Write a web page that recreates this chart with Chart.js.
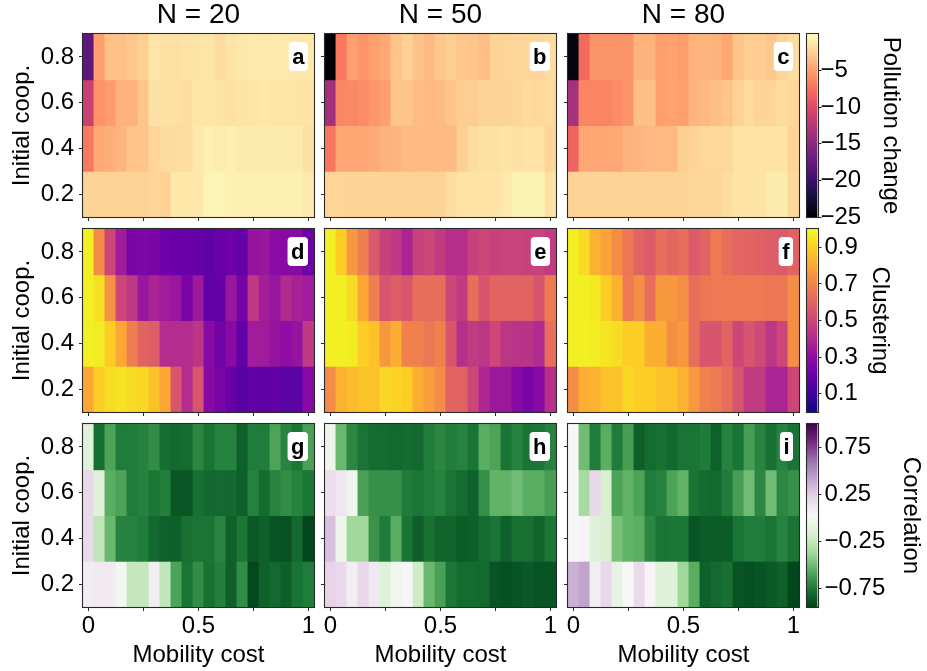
<!DOCTYPE html>
<html>
<head>
<meta charset="utf-8">
<script src="https://cdn.jsdelivr.net/npm/chart.js@4.4.0/dist/chart.umd.min.js"></script>
<style>
  html, body { margin: 0; padding: 0; background: #fff; }
  #fig { position: relative; width: 927px; height: 671px; overflow: hidden; background: #fff; }
  #fig canvas { position: absolute; }
</style>
</head>
<body>
<div id="fig"></div>
<script>
// sweep grid
var mobilityCost = [0, 0.05, 0.1, 0.15, 0.2, 0.25, 0.3, 0.35, 0.4, 0.45, 0.5,
                    0.55, 0.6, 0.65, 0.7, 0.75, 0.8, 0.85, 0.9, 0.95, 1];
var initialCoop = [0.8, 0.6, 0.4, 0.2];
var groupSizes = ['N = 20', 'N = 50', 'N = 80'];

var xTicks = [0, 0.25, 0.5, 0.75, 1];
var xTickLabels = ['0', '', '0.5', '', '1'];
var yTicks = [0.2, 0.4, 0.6, 0.8];
var yTickLabels = ['0.2', '0.4', '0.6', '0.8'];

var pollutionTicks = [-5, -10, -15, -20, -25];
var pollutionTickLabels = ['\u22125', '\u221210', '\u221215', '\u221220', '\u221225'];
var clusteringTicks = [0.9, 0.7, 0.5, 0.3, 0.1];
var clusteringTickLabels = ['0.9', '0.7', '0.5', '0.3', '0.1'];
var correlationTicks = [0.75, 0.25, -0.25, -0.75];
var correlationTickLabels = ['0.75', '0.25', '\u22120.25', '\u22120.75'];

// rows follow initialCoop (0.8 at top), columns follow mobilityCost
var pollution20 = [
  [-18, -5.0, -3.2, -3.2, -2.9, -2.5, -1.3, -1.5, -1.6, -1.4, -1.4, -1.3, -1.8, -1.4, -1.2, -1.0, -1.1, -1.0, -1.1, -1.2, -1.2],
  [-11.3, -5.7, -5.2, -4.0, -4.0, -3.0, -1.5, -1.5, -1.6, -1.7, -1.3, -1.3, -1.4, -1.6, -1.4, -1.3, -1.2, -1.3, -1.3, -1.4, -1.4],
  [-7.0, -4.5, -4.2, -3.9, -3.0, -3.0, -2.2, -1.8, -1.8, -1.7, -1.1, -0.7, -0.9, -0.7, -1.0, -1.0, -1.0, -1.0, -1.0, -1.0, -1.5],
  [-2.3, -2.3, -2.3, -2.3, -2.3, -2.3, -2.1, -2.4, -1.2, -1.2, -1.2, -0.5, -0.5, -0.7, -0.7, -0.7, -0.7, -0.7, -0.7, -0.7, -1.1]
];
var pollution50 = [
  [-25, -7.0, -5.0, -5.5, -4.9, -4.5, -3.0, -2.4, -3.1, -3.6, -2.9, -2.6, -2.9, -3.0, -3.4, -2.3, -2.2, -2.1, -2.1, -2.1, -1.8],
  [-13.7, -6.3, -6.2, -5.9, -5.5, -5.0, -3.0, -3.0, -3.5, -3.7, -3.5, -3.0, -2.6, -2.6, -2.3, -2.3, -2.3, -2.1, -1.9, -2.0, -1.9],
  [-7.2, -4.6, -4.6, -4.6, -4.3, -4.0, -3.9, -3.6, -3.6, -3.6, -3.6, -3.6, -2.5, -1.8, -1.5, -1.5, -1.4, -1.5, -1.4, -1.4, -2.2],
  [-2.2, -2.2, -2.3, -2.3, -2.3, -2.3, -2.3, -2.3, -2.3, -2.3, -2.3, -1.7, -1.4, -1.4, -1.4, -1.4, -1.1, -0.6, -0.6, -0.6, -1.5]
];
var pollution80 = [
  [-24.5, -7.8, -5.6, -5.6, -5.6, -5.6, -4.0, -4.0, -5.0, -4.8, -5.1, -4.0, -3.9, -4.0, -4.6, -3.0, -2.6, -2.6, -2.9, -2.3, -1.8],
  [-13.5, -6.4, -6.4, -6.4, -6.0, -5.6, -3.3, -3.3, -5.0, -4.8, -5.0, -3.9, -3.7, -3.4, -3.0, -2.4, -1.9, -2.3, -2.2, -1.8, -2.1],
  [-8.3, -4.6, -4.6, -4.6, -4.6, -4.0, -3.9, -3.7, -3.7, -3.7, -2.5, -2.2, -2.0, -2.0, -2.0, -1.4, -1.4, -1.4, -1.4, -1.4, -2.3],
  [-2.3, -2.3, -2.3, -2.3, -2.3, -2.3, -2.3, -2.3, -2.3, -2.3, -2.3, -2.1, -2.1, -2.1, -1.8, -1.4, -1.4, -1.4, -1.0, -1.0, -2.0]
];

var clustering20 = [
  [0.98, 0.72, 0.50, 0.35, 0.24, 0.25, 0.24, 0.21, 0.20, 0.20, 0.19, 0.17, 0.20, 0.21, 0.18, 0.32, 0.33, 0.29, 0.28, 0.28, 0.21],
  [0.98, 0.94, 0.74, 0.50, 0.45, 0.33, 0.38, 0.35, 0.33, 0.24, 0.34, 0.18, 0.19, 0.33, 0.23, 0.45, 0.36, 0.33, 0.40, 0.37, 0.35],
  [0.98, 0.97, 0.90, 0.80, 0.68, 0.60, 0.58, 0.41, 0.41, 0.41, 0.44, 0.28, 0.22, 0.28, 0.18, 0.35, 0.35, 0.32, 0.30, 0.32, 0.45],
  [0.80, 0.90, 0.93, 0.95, 0.93, 0.92, 0.87, 0.80, 0.55, 0.41, 0.55, 0.28, 0.24, 0.20, 0.15, 0.18, 0.17, 0.18, 0.16, 0.16, 0.28]
];
var clustering50 = [
  [0.98, 0.90, 0.76, 0.68, 0.56, 0.48, 0.45, 0.38, 0.48, 0.50, 0.46, 0.42, 0.42, 0.48, 0.50, 0.48, 0.49, 0.49, 0.48, 0.49, 0.46],
  [0.98, 0.98, 0.93, 0.80, 0.68, 0.55, 0.58, 0.55, 0.63, 0.63, 0.63, 0.50, 0.46, 0.63, 0.55, 0.60, 0.60, 0.60, 0.60, 0.55, 0.67],
  [0.98, 0.98, 0.97, 0.90, 0.87, 0.76, 0.82, 0.69, 0.69, 0.66, 0.69, 0.55, 0.42, 0.46, 0.44, 0.50, 0.44, 0.43, 0.43, 0.40, 0.63],
  [0.72, 0.83, 0.85, 0.87, 0.87, 0.92, 0.91, 0.90, 0.82, 0.77, 0.72, 0.60, 0.60, 0.50, 0.39, 0.34, 0.34, 0.28, 0.24, 0.28, 0.42]
];
var clustering80 = [
  [0.98, 0.93, 0.83, 0.79, 0.73, 0.66, 0.60, 0.57, 0.63, 0.61, 0.63, 0.57, 0.60, 0.67, 0.63, 0.61, 0.60, 0.59, 0.58, 0.57, 0.60],
  [0.98, 0.98, 0.96, 0.90, 0.83, 0.67, 0.73, 0.63, 0.76, 0.76, 0.73, 0.63, 0.66, 0.67, 0.67, 0.67, 0.67, 0.67, 0.66, 0.66, 0.73],
  [0.98, 0.98, 0.97, 0.95, 0.93, 0.90, 0.90, 0.82, 0.82, 0.73, 0.76, 0.63, 0.55, 0.55, 0.60, 0.50, 0.55, 0.51, 0.44, 0.50, 0.73],
  [0.73, 0.82, 0.83, 0.87, 0.87, 0.92, 0.90, 0.90, 0.87, 0.87, 0.83, 0.76, 0.69, 0.67, 0.63, 0.55, 0.46, 0.46, 0.38, 0.38, 0.50]
];

var correlation20 = [
  [-0.13, -0.79, -0.60, -0.74, -0.74, -0.72, -0.68, -0.79, -0.81, -0.80, -0.70, -0.77, -0.72, -0.72, -0.85, -0.74, -0.74, -0.60, -0.71, -0.76, -0.61],
  [0.20, -0.13, -0.56, -0.60, -0.74, -0.72, -0.76, -0.73, -0.88, -0.88, -0.78, -0.81, -0.81, -0.81, -0.85, -0.72, -0.80, -0.71, -0.68, -0.72, -0.76],
  [0.18, -0.27, -0.52, -0.72, -0.72, -0.74, -0.81, -0.84, -0.84, -0.78, -0.77, -0.77, -0.71, -0.84, -0.76, -0.87, -0.84, -0.89, -0.90, -0.81, -0.94],
  [0.08, 0.10, 0.10, -0.01, -0.25, -0.25, 0.08, -0.26, -0.60, -0.77, -0.68, -0.78, -0.73, -0.85, -0.68, -0.93, -0.84, -0.81, -0.85, -0.77, -0.74]
];
var correlation50 = [
  [-0.04, -0.52, -0.70, -0.77, -0.80, -0.80, -0.81, -0.80, -0.81, -0.74, -0.70, -0.74, -0.72, -0.77, -0.56, -0.60, -0.77, -0.72, -0.77, -0.76, -0.72],
  [0.16, 0.12, -0.03, -0.61, -0.67, -0.67, -0.67, -0.74, -0.76, -0.74, -0.72, -0.77, -0.80, -0.84, -0.67, -0.54, -0.54, -0.50, -0.56, -0.56, -0.62],
  [0.30, -0.03, -0.38, -0.38, -0.66, -0.74, -0.56, -0.77, -0.85, -0.78, -0.83, -0.83, -0.86, -0.84, -0.80, -0.77, -0.84, -0.78, -0.78, -0.83, -0.76],
  [0.22, 0.19, 0.08, 0.20, 0.11, -0.13, -0.02, 0.03, -0.22, -0.52, -0.61, -0.76, -0.80, -0.80, -0.81, -0.89, -0.91, -0.89, -0.87, -0.89, -0.89]
];
var correlation80 = [
  [0.02, -0.50, -0.74, -0.56, -0.74, -0.62, -0.85, -0.80, -0.78, -0.81, -0.77, -0.77, -0.74, -0.84, -0.72, -0.77, -0.62, -0.71, -0.78, -0.72, -0.77],
  [0.02, -0.36, 0.20, -0.17, -0.60, -0.54, -0.60, -0.74, -0.72, -0.60, -0.54, -0.77, -0.80, -0.81, -0.74, -0.62, -0.50, -0.70, -0.50, -0.70, -0.67],
  [0.02, 0.04, -0.13, -0.17, -0.48, -0.54, -0.56, -0.70, -0.77, -0.76, -0.76, -0.89, -0.86, -0.86, -0.86, -0.77, -0.74, -0.74, -0.77, -0.72, -0.77],
  [0.37, 0.42, 0.08, 0.20, -0.08, 0.02, 0.19, 0.04, -0.14, -0.14, -0.38, -0.56, -0.84, -0.81, -0.78, -0.89, -0.91, -0.89, -0.87, -0.84, -0.94]
];

var FONT = '"Liberation Sans", Arial, Helvetica, sans-serif';
var INK = '#2a2a2a';
Chart.defaults.font.family = FONT;
Chart.defaults.color = '#000';

function hexToRgb(h) {
  return [parseInt(h.substr(1, 2), 16), parseInt(h.substr(3, 2), 16), parseInt(h.substr(5, 2), 16)];
}

// piecewise-linear colormap from evenly spaced stops
function makeCmap(stops) {
  var rgb = stops.map(hexToRgb);
  return function(t) {
    t = Math.max(0, Math.min(1, t));
    var p = t * (rgb.length - 1);
    var i = Math.min(Math.floor(p), rgb.length - 2);
    var f = p - i, a = rgb[i], b = rgb[i + 1];
    return 'rgb(' + Math.round(a[0] + (b[0] - a[0]) * f) + ',' +
      Math.round(a[1] + (b[1] - a[1]) * f) + ',' +
      Math.round(a[2] + (b[2] - a[2]) * f) + ')';
  };
}

var magma = makeCmap(['#000004', '#140e36', '#3b0f70', '#641a80', '#8c2981', '#b73779',
                      '#de4968', '#f7705c', '#fe9f6d', '#fecf92', '#fcfdbf']);
var plasma = makeCmap(['#0d0887', '#41049d', '#6a00a8', '#8f0da4', '#b12a90', '#cc4778',
                       '#e16462', '#f2844b', '#fca636', '#fcce25', '#f0f921']);
var greenPurple = makeCmap(['#00441b', '#1b7837', '#5aae61', '#a6dba0', '#d9f0d3', '#f7f7f7',
                            '#e7d4e8', '#c2a5cf', '#9970ab', '#762a83', '#40004b']);

var metrics = [
  { data: [pollution20, pollution50, pollution80], cmap: magma, min: -25, max: 0,
    ticks: pollutionTicks, tickLabels: pollutionTickLabels, label: 'Pollution change',
    titleCenter: 891, labelGap: -1 },
  { data: [clustering20, clustering50, clustering80], cmap: plasma, min: 0, max: 1,
    ticks: clusteringTicks, tickLabels: clusteringTickLabels, label: 'Clustering',
    titleCenter: 880, labelGap: 3 },
  { data: [correlation20, correlation50, correlation80], cmap: greenPurple, min: -0.95, max: 1,
    ticks: correlationTicks, tickLabels: correlationTickLabels, label: 'Correlation',
    titleCenter: 911, labelGap: 3 }
];
var panelLetters = [['a', 'b', 'c'], ['d', 'e', 'f'], ['g', 'h', 'i']];

// layout of the axes boxes
var FIG_W = 927, FIG_H = 671;
var colLeft = [83, 325, 568];
var rowTop = [34, 229, 424];
var areaW = 231, areaH = 183;
var cbLeft = 807, cbW = 10.5;
var EDGE = 26;   // spare room around a panel so tick labels never squeeze it

var xStep = mobilityCost[1] - mobilityCost[0];
var xMin = mobilityCost[0] - xStep / 2;
var xMax = mobilityCost[mobilityCost.length - 1] + xStep / 2;
var coopStep = Math.abs(initialCoop[0] - initialCoop[1]);
var yMin = initialCoop[initialCoop.length - 1] - coopStep / 2;
var yMax = initialCoop[0] + coopStep / 2;

// box around each axes plus the panel letter
var panelFrame = {
  id: 'panelFrame',
  afterDraw: function(chart, args, opts) {
    var a = chart.chartArea, ctx = chart.ctx;
    ctx.save();
    ctx.strokeStyle = INK;
    ctx.lineWidth = 1.1;
    ctx.strokeRect(Math.round(a.left) - 0.5, Math.round(a.top) - 0.5,
                   Math.round(a.right) - Math.round(a.left) + 1, Math.round(a.bottom) - Math.round(a.top) + 1);
    if (opts && opts.letter) {
      ctx.font = 'bold 22px ' + FONT;
      var w = ctx.measureText(opts.letter).width + 7;
      var h = 29;
      var x = a.right - 6 - w, y = a.top + 8;
      ctx.fillStyle = '#fff';
      ctx.beginPath();
      ctx.roundRect(x, y, w, h, 4);
      ctx.fill();
      ctx.fillStyle = '#000';
      ctx.textAlign = 'center';
      ctx.textBaseline = 'alphabetic';
      ctx.fillText(opts.letter, x + w / 2, y + 22);
    }
    ctx.restore();
  }
};

var fig = document.getElementById('fig');

function makeCanvas(left, top, w, h) {
  var c = document.createElement('canvas');
  c.width = w; c.height = h;
  c.style.left = left + 'px'; c.style.top = top + 'px';
  c.style.width = w + 'px'; c.style.height = h + 'px';
  fig.appendChild(c);
  return c;
}

function addPanel(row, col) {
  var m = metrics[row];
  var values = m.data[col];
  var left = colLeft[col], top = rowTop[row];
  var yW = col === 0 ? left : EDGE;
  var tH = row === 0 ? top : EDGE;
  var xH = row === 2 ? FIG_H - (top + areaH) : EDGE;
  var rPad = 12;
  var canvas = makeCanvas(left - yW, top - tH, yW + areaW + rPad, tH + areaH + xH);

  var datasets = initialCoop.map(function(c, r) {
    return {
      data: mobilityCost.map(function(x) { return { x: x, y: [c - coopStep / 2, c + coopStep / 2] }; }),
      backgroundColor: values[r].map(function(v) { return m.cmap((v - m.min) / (m.max - m.min)); }),
      grouped: false,
      barPercentage: 1,
      categoryPercentage: 1,
      borderWidth: 0,
      inflateAmount: 0.45
    };
  });

  new Chart(canvas, {
    type: 'bar',
    data: { datasets: datasets },
    options: {
      responsive: false,
      animation: false,
      events: [],
      devicePixelRatio: 1,
      layout: { padding: { left: 0, right: rPad, top: row === 0 ? 0 : tH, bottom: 0 } },
      plugins: {
        legend: { display: false },
        tooltip: { enabled: false },
        title: {
          display: row === 0,
          text: groupSizes[col],
          fullSize: false,
          color: '#000',
          font: { size: 28, weight: 'normal', lineHeight: 1.1 },
          padding: { top: 0, bottom: 3.2 }
        },
        panelFrame: { letter: panelLetters[row][col] }
      },
      scales: {
        x: {
          type: 'linear', min: xMin, max: xMax, offset: false, bounds: 'data',
          afterBuildTicks: function(s) { s.ticks = xTicks.map(function(v) { return { value: v }; }); },
          afterFit: function(s) { s.height = xH; },
          grid: { offset: false, drawOnChartArea: false, drawTicks: true, tickLength: 4, color: INK },
          border: { display: false },
          ticks: {
            display: row === 2, autoSkip: false, maxRotation: 0, padding: 1,
            font: { size: 24 }, color: '#000',
            callback: function(v, i) { return xTickLabels[i]; }
          },
          title: {
            display: row === 2, text: 'Mobility cost', color: '#000',
            font: { size: 24, lineHeight: 1.2 }, padding: { top: 0, bottom: 1 }
          }
        },
        y: {
          type: 'linear', min: yMin, max: yMax, bounds: 'data',
          afterBuildTicks: function(s) { s.ticks = yTicks.map(function(v) { return { value: v }; }); },
          afterFit: function(s) { s.width = yW; },
          grid: { drawOnChartArea: false, drawTicks: true, tickLength: 4, color: INK },
          border: { display: false },
          ticks: {
            display: col === 0, autoSkip: false, padding: 5,
            font: { size: 24 }, color: '#000',
            callback: function(v, i) { return yTickLabels[i]; }
          },
          title: {
            display: col === 0, text: 'Initial coop.', color: '#000',
            font: { size: 24, lineHeight: 1.2 }, padding: { top: 8, bottom: 0 }
          }
        }
      }
    },
    plugins: [panelFrame]
  });
}

function addColorbar(row) {
  var m = metrics[row];
  var padV = 24, padL = 7;
  var cLeft = cbLeft - padL;
  var cW = FIG_W - cLeft;
  var canvas = makeCanvas(cLeft, rowTop[row] - padV, cW, areaH + 2 * padV);
  var scaleW = cW - padL - cbW;

  new Chart(canvas, {
    type: 'bar',
    data: {
      labels: [m.label],
      datasets: [{
        data: [[m.min, m.max]],
        backgroundColor: function(c) {
          var chart = c.chart, ys = chart.scales.y;
          if (!chart.chartArea || !ys) return m.cmap(0.5);
          var g = chart.ctx.createLinearGradient(0, ys.getPixelForValue(m.min), 0, ys.getPixelForValue(m.max));
          for (var k = 0; k <= 50; k++) g.addColorStop(k / 50, m.cmap(k / 50));
          return g;
        },
        barPercentage: 1,
        categoryPercentage: 1,
        borderWidth: 0
      }]
    },
    options: {
      responsive: false,
      animation: false,
      events: [],
      devicePixelRatio: 1,
      layout: { padding: { left: padL, right: 0, top: padV, bottom: padV } },
      plugins: { legend: { display: false }, tooltip: { enabled: false }, panelFrame: {} },
      scales: {
        x: { display: false },
        y: {
          position: 'right', min: m.min, max: m.max, bounds: 'data',
          afterBuildTicks: function(s) { s.ticks = m.ticks.map(function(v) { return { value: v }; }); },
          afterFit: function(s) { s.width = scaleW; },
          grid: { drawOnChartArea: false, drawTicks: true, tickLength: 4, color: INK },
          border: { display: false },
          ticks: {
            autoSkip: false, padding: m.labelGap, font: { size: 24 }, color: '#000',
            callback: function(v, i) { return m.tickLabels[i]; }
          },
          title: {
            display: true, text: m.label, color: '#000',
            font: { size: 24, lineHeight: 1.2 },
            padding: { top: FIG_W - m.titleCenter - 14.4, bottom: 0 }
          }
        }
      }
    },
    plugins: [panelFrame]
  });
}

for (var r = 0; r < 3; r++) {
  for (var c = 0; c < 3; c++) addPanel(r, c);
  addColorbar(r);
}
</script>
</body>
</html>
